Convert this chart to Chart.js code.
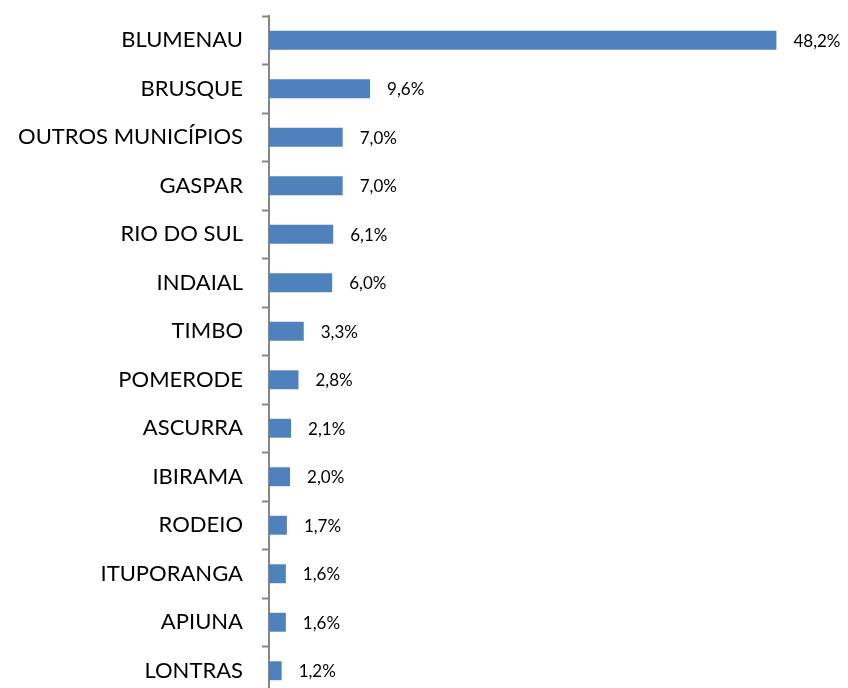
<!DOCTYPE html>
<html>
<head>
<meta charset="utf-8">
<script src="https://cdn.jsdelivr.net/npm/chart.js@4"></script>
<style>
  html, body { margin: 0; padding: 0; background: #fff; overflow: hidden; }
  #wrap { position: relative; width: 848px; height: 695px; }
</style>
</head>
<body>
<div id="wrap"><canvas id="chart"></canvas></div>
<script>
const municipios = ['BLUMENAU', 'BRUSQUE', 'OUTROS MUNICÍPIOS', 'GASPAR', 'RIO DO SUL', 'INDAIAL',
    'TIMBO', 'POMERODE', 'ASCURRA', 'IBIRAMA', 'RODEIO', 'ITUPORANGA', 'APIUNA', 'LONTRAS'];
const percentuais = [48.2, 9.6, 7.0, 7.0, 6.1, 6.0, 3.3, 2.8, 2.1, 2.0, 1.7, 1.6, 1.6, 1.2];

const FONT = 'Lato, "Open Sans", sans-serif';

// draw the value next to each bar
const valueLabels = {
    id: 'valueLabels',
    afterDatasetsDraw(chart) {
        const ctx = chart.ctx;
        const meta = chart.getDatasetMeta(0);
        ctx.save();
        ctx.font = '17px ' + FONT;
        ctx.fillStyle = '#000';
        ctx.textAlign = 'left';
        ctx.textBaseline = 'middle';
        meta.data.forEach((bar, i) => {
            const txt = percentuais[i].toFixed(1).replace('.', ',') + '%';
            ctx.fillText(txt, bar.x + 17, bar.y + 1);
        });
        ctx.restore();
    }
};

new Chart(document.getElementById('chart'), {
    type: 'bar',
    data: {
        labels: municipios,
        datasets: [{
            data: percentuais,
            backgroundColor: '#4F81BD',
            categoryPercentage: 0.39,
            barPercentage: 1
        }]
    },
    options: {
        indexAxis: 'y',
        responsive: true,
        maintainAspectRatio: false,
        animation: false,
        layout: { padding: { top: 16, right: 0, bottom: 0, left: 0 } },
        plugins: {
            legend: { display: false },
            tooltip: { enabled: false }
        },
        scales: {
            x: {
                display: false,
                min: 0,
                max: 55
            },
            y: {
                afterFit: scale => {
                    scale.width = 269;
                    scale.paddingTop = 0;
                    scale.paddingBottom = 0;
                },
                border: { color: '#868686', width: 2 },
                grid: {
                    drawOnChartArea: false,
                    offset: true,
                    tickLength: 7,
                    tickWidth: 2,
                    color: '#868686'
                },
                ticks: {
                    color: '#000',
                    padding: 19,
                    autoSkip: false,
                    font: { family: FONT, size: 22, lineHeight: 0.05 }
                }
            }
        }
    },
    plugins: [valueLabels]
});
</script>
</body>
</html>
